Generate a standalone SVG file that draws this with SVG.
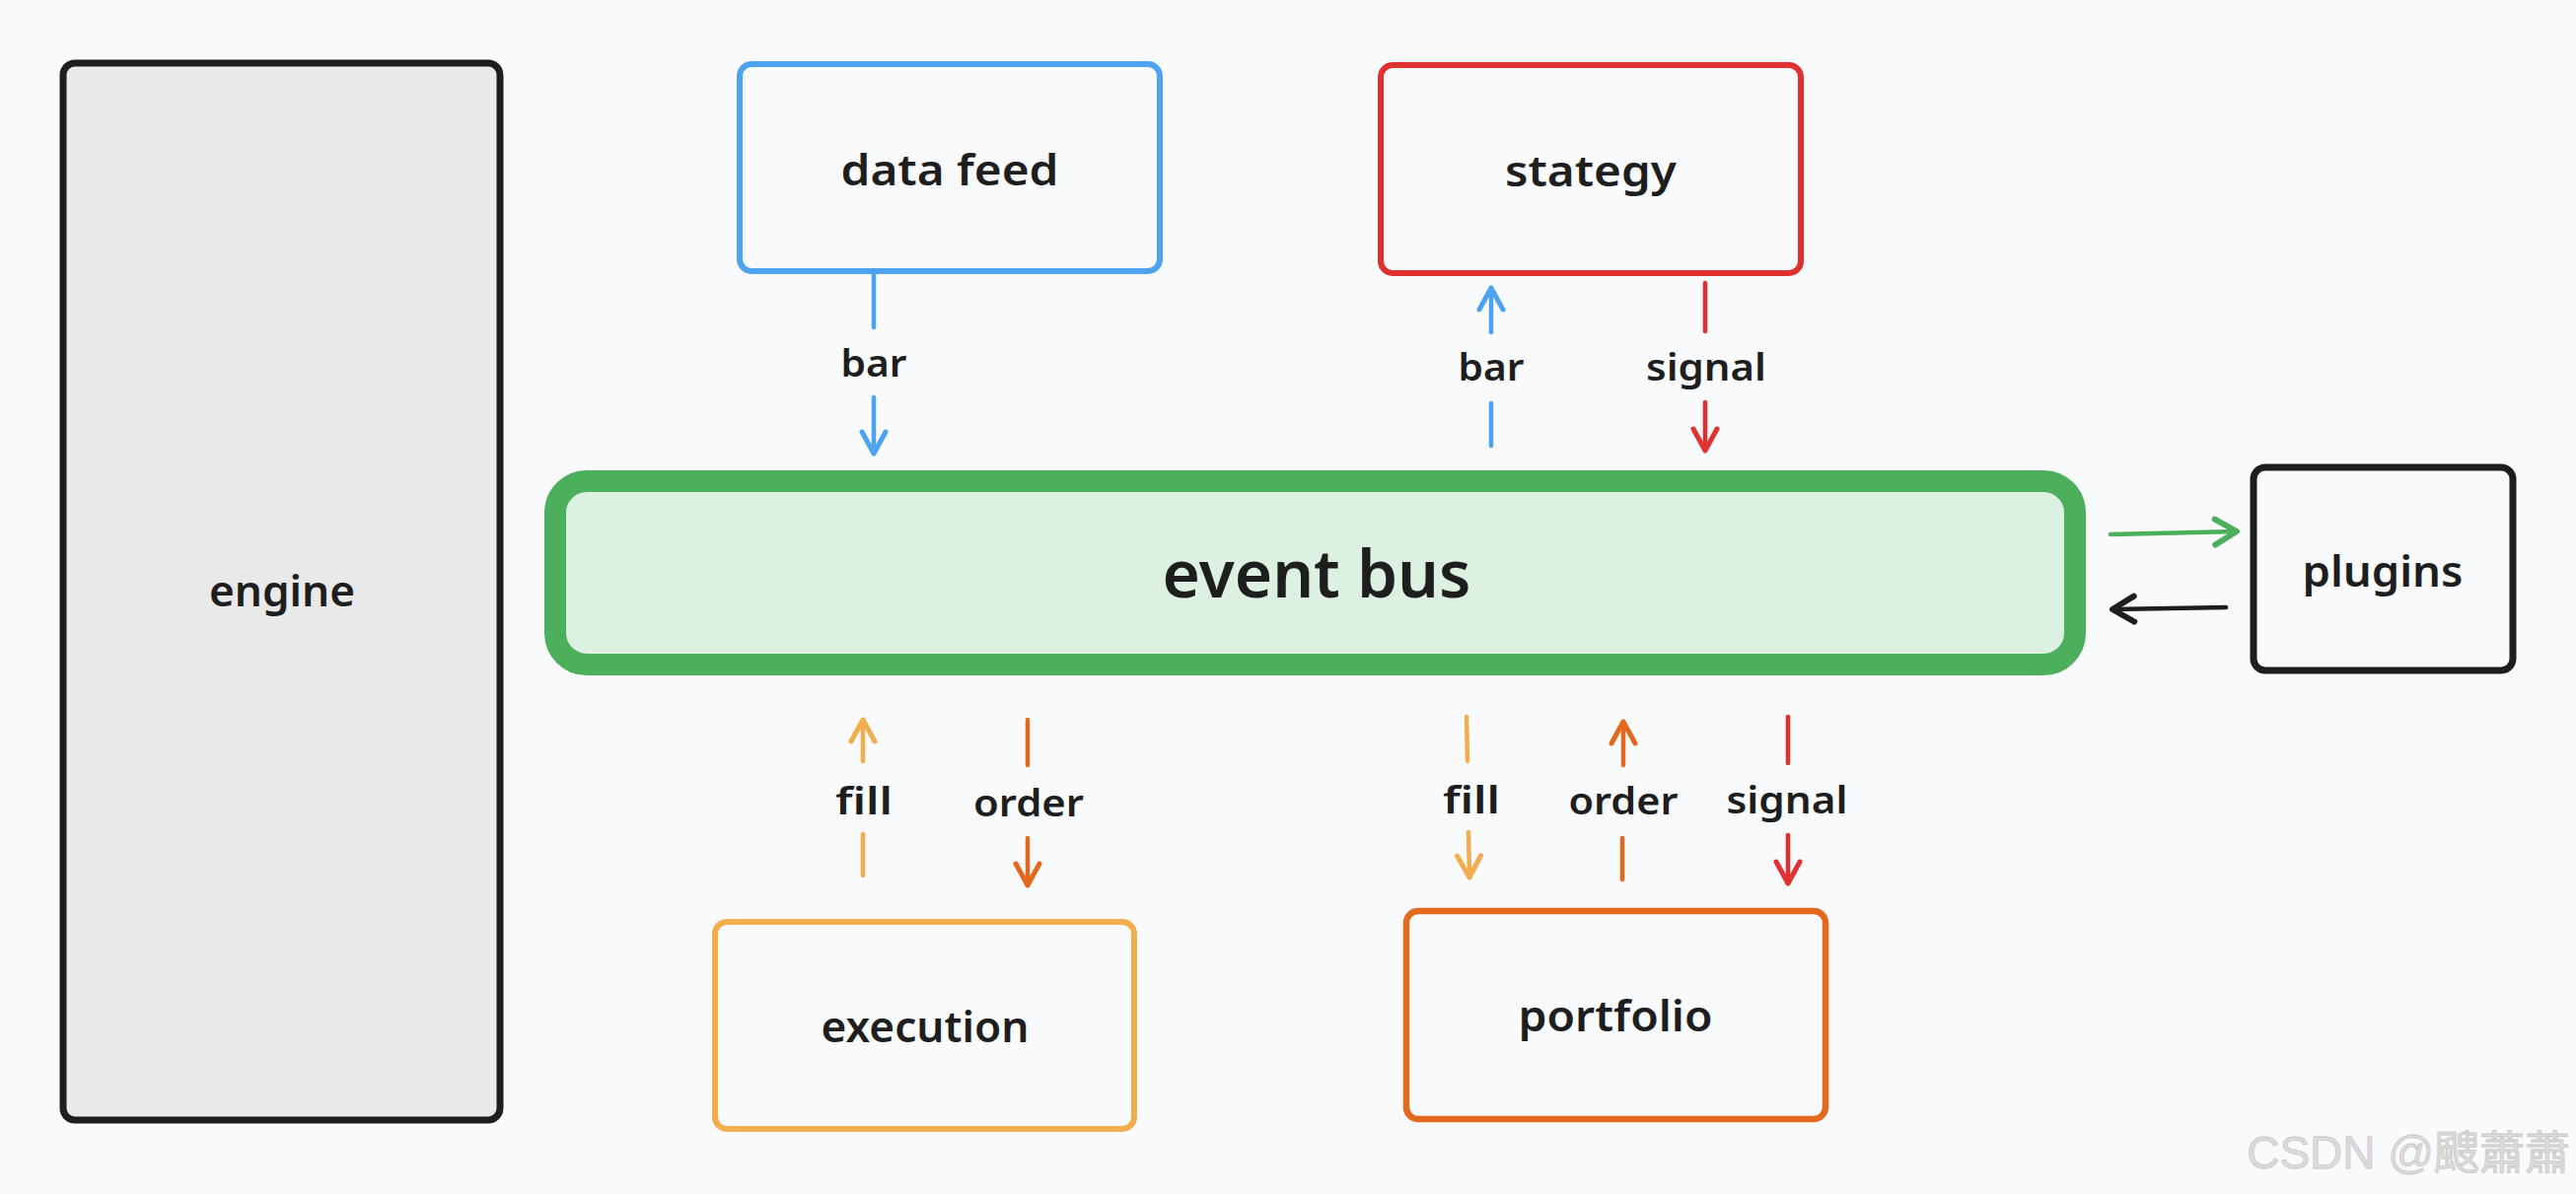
<svg xmlns="http://www.w3.org/2000/svg" width="2612" height="1211" viewBox="0 0 2612 1211">
<style>
.lbl{font-family:"Noto Sans","Liberation Sans",sans-serif;font-weight:600;fill:#1e1e1e;text-anchor:middle}
.node{font-size:43px}
.edge{font-size:38px}
.seg{fill:none;stroke-width:4.5;stroke-linecap:round}
.box{stroke-linejoin:round}
</style>
<defs>
<marker id="ah-blue" markerUnits="userSpaceOnUse" orient="auto" overflow="visible" markerWidth="1" markerHeight="1"><path d="M-22,-12 L0,0 L-22,12" fill="none" stroke="#4ea3f1" stroke-width="5" stroke-linecap="round" stroke-linejoin="round"/></marker>
<marker id="ah-red" markerUnits="userSpaceOnUse" orient="auto" overflow="visible" markerWidth="1" markerHeight="1"><path d="M-22,-12 L0,0 L-22,12" fill="none" stroke="#e03131" stroke-width="5" stroke-linecap="round" stroke-linejoin="round"/></marker>
<marker id="ah-lor" markerUnits="userSpaceOnUse" orient="auto" overflow="visible" markerWidth="1" markerHeight="1"><path d="M-22,-12 L0,0 L-22,12" fill="none" stroke="#f2ae4e" stroke-width="5" stroke-linecap="round" stroke-linejoin="round"/></marker>
<marker id="ah-or" markerUnits="userSpaceOnUse" orient="auto" overflow="visible" markerWidth="1" markerHeight="1"><path d="M-22,-12 L0,0 L-22,12" fill="none" stroke="#e2691e" stroke-width="5" stroke-linecap="round" stroke-linejoin="round"/></marker>
<marker id="ah-green" markerUnits="userSpaceOnUse" orient="auto" overflow="visible" markerWidth="1" markerHeight="1"><path d="M-22,-13 L0,0 L-22,13" fill="none" stroke="#4caf5c" stroke-width="6" stroke-linecap="round" stroke-linejoin="round"/></marker>
<marker id="ah-black" markerUnits="userSpaceOnUse" orient="auto" overflow="visible" markerWidth="1" markerHeight="1"><path d="M-22,-13 L0,0 L-22,13" fill="none" stroke="#1e1e1e" stroke-width="6" stroke-linecap="round" stroke-linejoin="round"/></marker>
</defs>
<rect x="0" y="0" width="2612" height="1211" fill="#f9fafc"/>

<g id="engine">
<rect class="box" x="64" y="64" width="443" height="1072" rx="12" fill="#e9e9e9" stroke="#1e1e1e" stroke-width="7"/>
<text class="lbl node" x="286" y="615" textLength="148" lengthAdjust="spacingAndGlyphs">engine</text>
</g>

<g id="data-feed">
<rect class="box" x="750" y="65" width="426" height="210" rx="12" fill="#f9fafc" stroke="#4ea3f1" stroke-width="6"/>
<text class="lbl node" x="963" y="188" textLength="221" lengthAdjust="spacingAndGlyphs">data feed</text>
</g>

<g id="stategy">
<rect class="box" x="1400" y="66" width="426" height="211" rx="12" fill="#f9fafc" stroke="#e03131" stroke-width="6"/>
<text class="lbl node" x="1613" y="189" textLength="174" lengthAdjust="spacingAndGlyphs">stategy</text>
</g>

<g id="event-bus">
<rect class="box" x="563" y="488" width="1541" height="186" rx="32" fill="#dcf1e1" stroke="#4caf5c" stroke-width="22"/>
<text class="lbl" x="1335" y="606" font-size="66" font-weight="700" textLength="313" lengthAdjust="spacingAndGlyphs">event bus</text>
</g>

<g id="plugins">
<rect class="box" x="2285" y="474" width="263" height="206" rx="12" fill="#f9fafc" stroke="#1e1e1e" stroke-width="7"/>
<text class="lbl node" x="2416" y="595" textLength="163" lengthAdjust="spacingAndGlyphs">plugins</text>
</g>

<g id="execution">
<rect class="box" x="725" y="935" width="425" height="210" rx="12" fill="#f9fafc" stroke="#f2ae4e" stroke-width="6"/>
<text class="lbl node" x="938" y="1057" textLength="211" lengthAdjust="spacingAndGlyphs">execution</text>
</g>

<g id="portfolio">
<rect class="box" x="1426" y="924" width="425" height="211" rx="12" fill="#f9fafc" stroke="#e2691e" stroke-width="6.5"/>
<text class="lbl node" x="1638" y="1046" textLength="197" lengthAdjust="spacingAndGlyphs">portfolio</text>
</g>

<g id="connectors">
<line class="seg" x1="886" y1="278" x2="886" y2="332" stroke="#4ea3f1"/>
<line class="seg" x1="886" y1="403" x2="886" y2="460" stroke="#4ea3f1" marker-end="url(#ah-blue)"/>
<text class="lbl edge" x="886" y="382" textLength="67" lengthAdjust="spacingAndGlyphs">bar</text>

<line class="seg" x1="1512" y1="452" x2="1512" y2="409" stroke="#4ea3f1"/>
<line class="seg" x1="1512" y1="337" x2="1512" y2="292" stroke="#4ea3f1" marker-end="url(#ah-blue)"/>
<text class="lbl edge" x="1512" y="386" textLength="67" lengthAdjust="spacingAndGlyphs">bar</text>

<line class="seg" x1="1729" y1="287" x2="1729" y2="336" stroke="#e03131"/>
<line class="seg" x1="1729" y1="408" x2="1729" y2="457" stroke="#e03131" marker-end="url(#ah-red)"/>
<text class="lbl edge" x="1730" y="386" textLength="122" lengthAdjust="spacingAndGlyphs">signal</text>

<line class="seg" x1="875" y1="888" x2="875" y2="846" stroke="#f2ae4e"/>
<line class="seg" x1="875" y1="772" x2="875" y2="730" stroke="#f2ae4e" marker-end="url(#ah-lor)"/>
<text class="lbl edge" x="876" y="826" textLength="58" lengthAdjust="spacingAndGlyphs">fill</text>

<line class="seg" x1="1042" y1="730" x2="1042" y2="776" stroke="#e2691e"/>
<line class="seg" x1="1042" y1="850" x2="1042" y2="898" stroke="#e2691e" marker-end="url(#ah-or)"/>
<text class="lbl edge" x="1043" y="828" textLength="112" lengthAdjust="spacingAndGlyphs">order</text>

<line class="seg" x1="1487" y1="727" x2="1488" y2="772" stroke="#f2ae4e"/>
<line class="seg" x1="1489" y1="844" x2="1490" y2="890" stroke="#f2ae4e" marker-end="url(#ah-lor)"/>
<text class="lbl edge" x="1492" y="825" textLength="58" lengthAdjust="spacingAndGlyphs">fill</text>

<line class="seg" x1="1645" y1="892" x2="1645" y2="850" stroke="#e2691e"/>
<line class="seg" x1="1646" y1="776" x2="1646" y2="732" stroke="#e2691e" marker-end="url(#ah-or)"/>
<text class="lbl edge" x="1646" y="826" textLength="111" lengthAdjust="spacingAndGlyphs">order</text>

<line class="seg" x1="1813" y1="727" x2="1813" y2="774" stroke="#e03131"/>
<line class="seg" x1="1813" y1="847" x2="1813" y2="896" stroke="#e03131" marker-end="url(#ah-red)"/>
<text class="lbl edge" x="1812" y="825" textLength="123" lengthAdjust="spacingAndGlyphs">signal</text>

<line class="seg" x1="2140" y1="542" x2="2268" y2="539" stroke="#4caf5c" stroke-width="6" marker-end="url(#ah-green)"/>
<line class="seg" x1="2257" y1="616" x2="2142" y2="618" stroke="#1e1e1e" stroke-width="6" marker-end="url(#ah-black)"/>
</g>

<text x="2606" y="1185" text-anchor="end" font-family="Liberation Sans,'Noto Sans CJK SC',sans-serif" font-size="46" fill="#dcdcdc" stroke="#c8c8c8" stroke-width="0.8">CSDN @颼蕭蕭</text>
</svg>
